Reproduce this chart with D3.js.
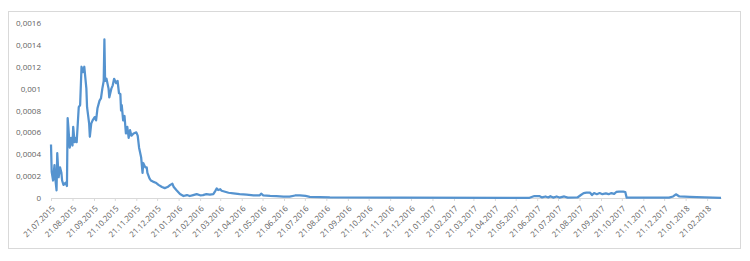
<!DOCTYPE html>
<html>
<head>
<meta charset="utf-8">
<script src="https://cdn.jsdelivr.net/npm/d3@7"></script>
<style>
  body { margin: 0; background: #fff; }
  svg { display: block; }
  .tick text { font-family: "Open Sans", sans-serif; font-size: 8px; fill: #5f5f5f; }
</style>
</head>
<body>
<svg id="chart" width="750" height="261"></svg>
<script>
// dates of the observations (stored as ISO)
let dates = [
  "2015-07-21","2015-07-22","2015-07-24","2015-07-26","2015-07-27","2015-07-29","2015-07-30",
  "2015-08-01","2015-08-03","2015-08-05","2015-08-06","2015-08-08","2015-08-11","2015-08-13",
  "2015-08-14","2015-08-15","2015-08-17","2015-08-19","2015-08-21","2015-08-22","2015-08-24",
  "2015-08-26","2015-08-27","2015-08-30","2015-09-01","2015-09-03","2015-09-05","2015-09-07",
  "2015-09-10","2015-09-11","2015-09-14","2015-09-15","2015-09-17","2015-09-19","2015-09-22",
  "2015-09-24","2015-09-26","2015-09-29","2015-10-01","2015-10-03","2015-10-05","2015-10-06",
  "2015-10-07","2015-10-09","2015-10-12","2015-10-13","2015-10-16","2015-10-18","2015-10-20",
  "2015-10-23","2015-10-25","2015-10-27","2015-10-29","2015-10-30","2015-10-31","2015-11-02",
  "2015-11-04","2015-11-06","2015-11-08","2015-11-10","2015-11-12","2015-11-14","2015-11-17",
  "2015-11-21","2015-11-23","2015-11-25","2015-11-28","2015-11-30","2015-12-01","2015-12-04",
  "2015-12-06","2015-12-07","2015-12-10","2015-12-12","2015-12-15","2015-12-19","2015-12-23",
  "2015-12-28","2016-01-01","2016-01-05","2016-01-09","2016-01-12","2016-01-14","2016-01-18",
  "2016-01-23","2016-01-28","2016-02-02","2016-02-06","2016-02-11","2016-02-16","2016-02-21",
  "2016-02-25","2016-03-01","2016-03-06","2016-03-11","2016-03-14","2016-03-16","2016-03-18",
  "2016-03-21","2016-03-23","2016-03-28","2016-04-02","2016-04-09","2016-04-18","2016-04-28",
  "2016-05-08","2016-05-17","2016-05-19","2016-05-22","2016-06-01","2016-06-10","2016-06-20",
  "2016-06-29","2016-07-07","2016-07-14","2016-07-22","2016-07-28","2016-08-26","2016-12-05",
  "2017-06-10","2017-06-17","2017-06-24","2017-06-28","2017-07-03","2017-07-07","2017-07-10",
  "2017-07-14","2017-07-19","2017-07-23","2017-07-30","2017-08-04","2017-08-18","2017-08-23",
  "2017-08-27","2017-08-31","2017-09-05","2017-09-08","2017-09-11","2017-09-15","2017-09-19",
  "2017-09-23","2017-09-28","2017-10-02","2017-10-06","2017-10-10","2017-10-13","2017-10-17",
  "2017-10-23","2017-10-26","2017-10-28","2017-12-28","2018-01-03","2018-01-07","2018-01-12",
  "2018-01-27","2018-02-06","2018-03-13"
];

let values = [
  0.00049,0.00024,0.00016,0.00030,0.00019,0.00007,0.00041,
  0.00019,0.00028,0.00023,0.00016,0.00012,0.00014,0.00011,
  0.00073,0.00065,0.00046,0.00055,0.00048,0.00065,0.00051,
  0.00055,0.00051,0.00083,0.00085,0.00120,0.00115,0.00120,
  0.00100,0.00083,0.00068,0.00056,0.00068,0.00071,0.00074,
  0.00071,0.00082,0.00089,0.00091,0.00100,0.00107,0.00145,
  0.00107,0.00109,0.00100,0.00092,0.00100,0.00103,0.00109,
  0.00105,0.00107,0.00096,0.00095,0.00080,0.00085,0.00071,
  0.00075,0.00059,0.00065,0.00055,0.00062,0.00057,0.00059,
  0.00060,0.00057,0.00046,0.00037,0.00023,0.00032,0.00028,
  0.00028,0.00023,0.00018,0.00016,0.00015,0.00014,0.00012,
  0.00010,0.00009,0.00010,0.00012,0.00013,0.00010,0.00007,
  0.000036,0.000018,0.000027,0.000018,0.000027,0.000036,0.000025,
  0.000027,0.000036,0.000030,0.000036,0.000066,0.000088,0.000073,
  0.000080,0.000066,0.000057,0.000048,0.000043,0.000036,0.000030,
  0.000025,0.000025,0.000040,0.000025,0.000020,0.000018,0.000012,
  0.000012,0.000023,0.000025,0.000020,0.000010,0.000005,0.000003,
  0.000002,0.000018,0.000018,0.000005,0.000014,0.000005,0.000016,
  0.000004,0.000014,0.000004,0.000014,0.000003,0.000005,0.000027,
  0.000045,0.000050,0.000050,0.000027,0.000045,0.000035,0.000045,
  0.000035,0.000042,0.000035,0.000045,0.000038,0.000055,0.000059,
  0.000059,0.000055,0.000003,0.000003,0.000014,0.000034,0.000014,
  0.000010,0.000008,0.000002
];

let y_ticks = [0, 0.0002, 0.0004, 0.0006, 0.0008, 0.001, 0.0012, 0.0014, 0.0016];
let x_start = "2015-07-21", x_end = "2018-03-13";
let n_months = 32;

let parse = d3.utcParse("%Y-%m-%d");
let data = [];
for (let i = 0; i < dates.length; i++){
    data.push({date: parse(dates[i]), value: values[i]});
};

let svg = d3.select("#chart"),
    margin = {top: 23, right: 29, bottom: 63, left: 51},
    width = 750 - margin.left - margin.right,
    height = 261 - margin.top - margin.bottom;

// outer chart frame
svg.append("rect")
    .attr("x", 8.5).attr("y", 11.5)
    .attr("width", 732).attr("height", 237)
    .attr("fill", "#fff")
    .attr("stroke", "#d9d9d9");

let x = d3.scaleUtc().domain([parse(x_start), parse(x_end)]).range([0, width]);
let y = d3.scaleLinear().domain([0, 0.0016]).range([height, 0]);

let g = svg.append("g").attr("transform", "translate(" + margin.left + "," + margin.top + ")");

// y axis: labels only
let yAxis = d3.axisLeft(y)
    .tickValues(y_ticks)
    .tickSize(0)
    .tickPadding(10)
    .tickFormat(d => d === 0 ? "0" : String(+d.toFixed(4)).replace(".", ","));
g.append("g").call(yAxis).call(a => a.select(".domain").remove());

// x axis: monthly ticks on the 21st
let ticks = [];
for (let i = 0; i < n_months; i++){
    ticks.push(d3.utcMonth.offset(parse(x_start), i));
};
let xAxis = d3.axisBottom(x)
    .tickValues(ticks)
    .tickSize(3)
    .tickSizeOuter(0)
    .tickFormat(d3.utcFormat("%d.%m.%Y"));
let xg = g.append("g").attr("transform", "translate(0," + height + ")").call(xAxis);
xg.select(".domain").attr("stroke", "#d9d9d9");
xg.selectAll(".tick line").attr("stroke", "#d9d9d9");
xg.selectAll(".tick text")
    .attr("text-anchor", "end")
    .attr("dy", "0.35em")
    .attr("transform", "translate(2,9) rotate(-45)")
    .attr("y", 0).attr("x", 0);

// the series
let line = d3.line()
    .x(d => x(d.date))
    .y(d => y(d.value));

g.append("path")
    .datum(data)
    .attr("fill", "none")
    .attr("stroke", "#5593cf")
    .attr("stroke-width", 2.25)
    .attr("stroke-linejoin", "round")
    .attr("d", line);
</script>
</body>
</html>
